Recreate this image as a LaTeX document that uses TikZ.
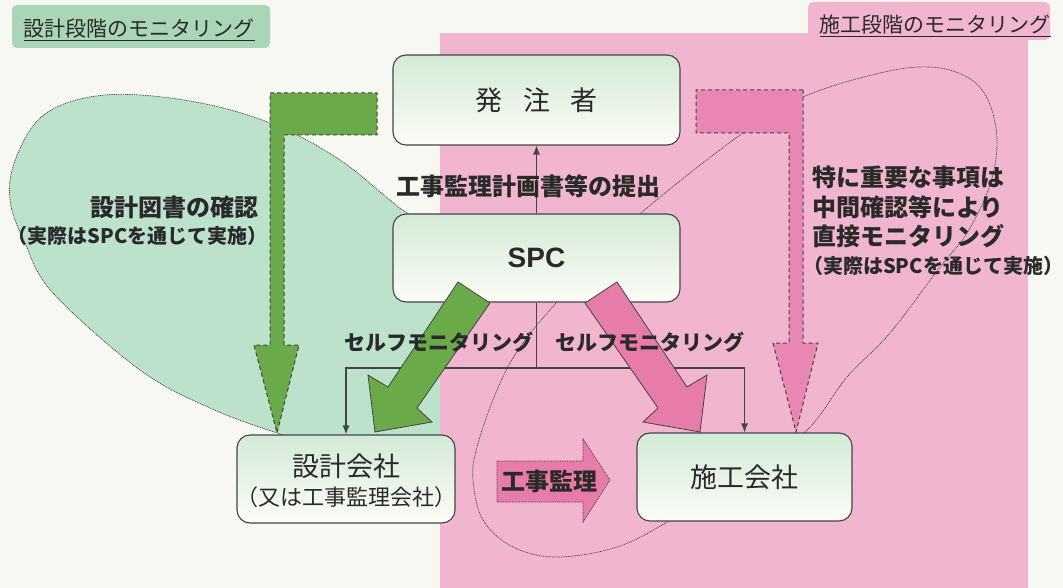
\documentclass[tikz,border=0pt]{standalone}
\usepackage{fontspec}
\newfontfamily\jp{Noto Sans CJK JP}
\newfontfamily\arl{Liberation Sans}
\usetikzlibrary{arrows.meta}
\definecolor{bgc}{HTML}{F8F8F2}
\definecolor{pinkbg}{HTML}{F1B5CF}
\definecolor{ellg}{HTML}{BDE2CC}
\definecolor{hdrg}{HTML}{A9D6B6}
\definecolor{gdark}{HTML}{6BAA48}
\definecolor{pdark}{HTML}{E77BA9}
\definecolor{pdash}{HTML}{EA86B3}
\definecolor{txt}{HTML}{2A2A2A}
\definecolor{linec}{HTML}{444444}
\definecolor{boxtop}{HTML}{D3EAD6}
\definecolor{boxbot}{HTML}{FCFCF6}
\begin{document}
\begin{tikzpicture}[x=1pt,y=-1pt,
  box/.style={draw=linec, line width=1.1pt, rounded corners=13pt, top color=boxtop, bottom color=boxbot, inner sep=0pt, text=txt, align=center},
  lbl/.style={text=txt, inner sep=0pt, font=\jp\bfseries\fontsize{24}{30}\selectfont},
  small/.style={text=txt, inner sep=0pt, font=\jp\bfseries\fontsize{20}{24}\selectfont},
  kana/.style={text=txt, inner sep=0pt, font=\jp\bfseries\fontsize{21}{26}\selectfont},
  hdr/.style={text=txt, inner sep=0pt, font=\jp\fontsize{21}{26}\selectfont},
  blob/.style={draw=linec, line width=0.7pt, dash pattern=on 1pt off 0.8pt},
  dashedarrow/.style={draw=linec, line width=1pt, dash pattern=on 4pt off 3pt},
  blockarrow/.style={draw=linec, line width=0.8pt},
  conn/.style={draw=linec, line width=1.1pt},
  tip/.style={-{Latex[length=9pt,width=7pt]}}
]
\useasboundingbox (0,0) rectangle (1063,588);
\fill[bgc] (0,0) rectangle (1063,588);

% green header and green region
\fill[hdrg, rounded corners=5pt] (12,5) rectangle (270,48);
\node[hdr] (hdrleft) at (139,30) {\underline{設計段階のモニタリング}};
\filldraw[fill=ellg, blob] plot[smooth cycle, tension=0.6] coordinates {
  (407,213) (340,160) (270,123) (190,101) (105,95) (45,114) (16,158) (10,200)
  (25,243) (53,293) (140,370) (210,408) (277,433) (340,452) (448,452)
  (470,380) (470,280) (452,232)};

% pink region
\fill[pinkbg] (440,33) rectangle (1028,588);
\fill[pinkbg, rounded corners=5pt] (808,2) rectangle (1050,40);
\node[hdr] (hdrright) at (935,26) {\underline{施工段階のモニタリング}};

% pink blob outline
\draw[blob] plot[smooth cycle, tension=0.6] coordinates {
  (803,97) (880,73) (930,67) (967,77) (988,100) (997,140) (990,185)
  (967,233) (940,267) (890,333) (847,377) (805,432) (737,478) (669,521)
  (617,547) (557,557) (513,547) (483,520) (473,480) (477,447) (497,390)
  (520,347) (557,302) (599,257) (641,213) (740,135)};

% dashed L-shaped arrows
\filldraw[fill=gdark, dashedarrow] (270,93) -- (377,93) -- (377,135) -- (284,135)
  -- (284,345) -- (299,345) -- (277,433) -- (254,345) -- (270,345) -- cycle;
\filldraw[fill=pdash, dashedarrow] (803,90) -- (696,90) -- (696,133) -- (789,133)
  -- (789,343) -- (773,343) -- (796,432) -- (818,343) -- (803,343) -- cycle;

% nodes
\node[box, minimum width=287pt, minimum height=90pt] (hatchu) at (536.5,100)
  {\jp\fontsize{27}{32}\selectfont 発\hspace{0.75em}注\hspace{0.75em}者};
\node[box, minimum width=287pt, minimum height=88pt] (spc) at (536.5,258)
  {\arl\bfseries\fontsize{28}{32}\selectfont SPC};
\node[box, minimum width=218pt, minimum height=88pt] (sekkei) at (346,479) {};
\node[text=txt, inner sep=0pt, font=\jp\fontsize{27}{32}\selectfont] (sekkei1) at (346,466) {設計会社};
\node[text=txt, inner sep=0pt, font=\jp\fontsize{22}{26}\selectfont] (sekkei2) at (346,497) {（又は工事監理会社）};
\node[box, minimum width=215pt, minimum height=88pt, font=\jp\fontsize{27}{32}\selectfont] (sekou) at (744.5,477) {施工会社};

% connectors
\draw[conn, tip] (spc.north) -- (hatchu.south);
\coordinate (branch) at (536.5,368);
\draw[conn] (spc.south) -- (branch);
\draw[conn, tip] (branch) -| (sekkei.north);
\draw[conn, tip] (branch) -| (sekou.north);

% block arrows
\filldraw[fill=gdark, blockarrow] (458,282) -- (490,303) -- (417,408) -- (432,422)
  -- (375,432) -- (368,375) -- (388,387) -- cycle;
\filldraw[fill=pdark, blockarrow] (617,282) -- (585,303) -- (658,408) -- (643,422)
  -- (700,432) -- (707,375) -- (687,387) -- cycle;
\filldraw[fill=pdark, draw=linec, line width=0.7pt, dash pattern=on 1pt off 0.8pt]
  (497,461) -- (583,461) -- (583,439) -- (610,480) -- (583,522) -- (583,502) -- (497,502) -- cycle;
\node[lbl] (kanri) at (549,481) {工事監理};

% labels
\node[lbl] (teishutsu) at (528,186) {工事監理計画書等の提出};
\node[kana] (selfl) at (439,342) {セルフモニタリング};
\node[kana] (selfr) at (650,342) {セルフモニタリング};
\node[lbl, anchor=east] (kakunin) at (259,207) {設計図書の確認};
\node[small, anchor=east] (jissai1) at (268,236) {（実際はSPCを通じて実施）};
\node[lbl, anchor=west] (r1) at (812,177) {特に重要な事項は};
\node[lbl, anchor=west] (r2) at (812,207) {中間確認等により};
\node[lbl, anchor=west] (r3) at (812,236) {直接モニタリング};
\node[small, anchor=west] (r4) at (803,266) {（実際はSPCを通じて実施）};
\end{tikzpicture}
\end{document}
